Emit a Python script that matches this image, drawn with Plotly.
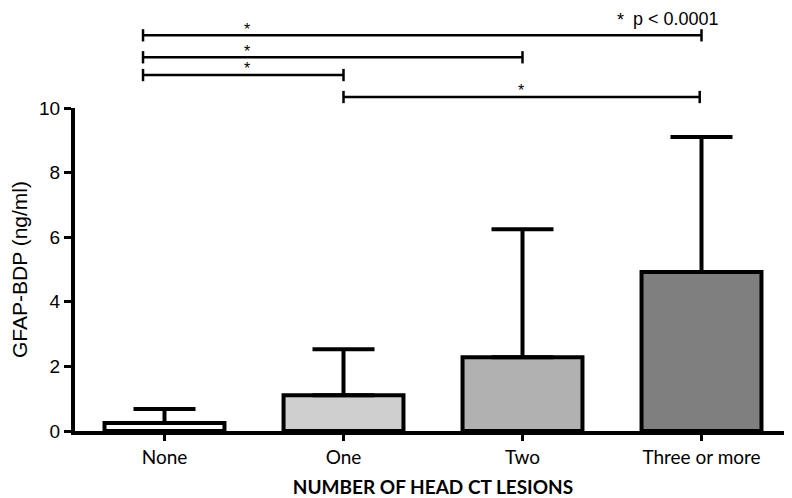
import plotly.graph_objects as go

categories = ["None", "One", "Two", "Three or more"]
means = [0.25, 1.11, 2.28, 4.92]
errors_up = [0.43, 1.42, 3.97, 4.18]
bar_colors = ["#ffffff", "#cfcfcf", "#b1b1b1", "#7f7f7f"]

# significance comparisons: (start position, end position, bracket level, star x)
comparisons = [
    (-0.12, 3.0, 1.225, 0.46),
    (-0.12, 2.0, 1.157, 0.46),
    (-0.12, 1.0, 1.102, 0.46),
    (1.0, 2.99, 1.034, 1.99),
]
sig_note = "p < 0.0001"

fig = go.Figure()
fig.add_trace(go.Bar(
    x=list(range(len(categories))),
    y=means,
    width=0.67,
    marker=dict(color=bar_colors, line=dict(color="black", width=4)),
    error_y=dict(type="data", symmetric=False, array=errors_up, arrayminus=[0]*4,
                 color="black", thickness=4, width=31),
    showlegend=False,
))

shapes = []
annotations = []
for x0, x1, lvl, sx in comparisons:
    shapes.append(dict(type="line", xref="x", yref="paper", x0=x0, x1=x1, y0=lvl, y1=lvl,
                       line=dict(color="black", width=2.5)))
    for xe in (x0, x1):
        shapes.append(dict(type="line", xref="x", yref="paper", x0=xe, x1=xe,
                           y0=lvl - 0.019, y1=lvl + 0.019, line=dict(color="black", width=2.5)))
    annotations.append(dict(x=sx, y=lvl + 0.019, xref="x", yref="paper", text="*",
                            showarrow=False, yanchor="middle",
                            font=dict(family="Liberation Sans", size=16, color="black")))

annotations.append(dict(x=2.546, y=1.273, xref="x", yref="paper", text="*",
                        showarrow=False, yanchor="middle",
                        font=dict(family="Liberation Sans", size=18, color="black")))
annotations.append(dict(x=2.605, y=1.274, xref="x", yref="paper", text=sig_note,
                        showarrow=False, xanchor="left", yanchor="middle",
                        font=dict(family="Liberation Sans", size=18, color="black")))

# the page places the figure 8px in from the top-left corner of the window
fig.update_layout(
    width=784, height=490,
    margin=dict(l=67, r=1, t=100, b=67),
    plot_bgcolor="white", paper_bgcolor="white",
    shapes=shapes, annotations=annotations,
    xaxis=dict(
        range=[-0.5, 3.5], tickvals=list(range(len(categories))), ticktext=categories,
        showline=True, linecolor="black", linewidth=4, ticks="outside", ticklen=6,
        tickwidth=3, tickcolor="black", showgrid=False, zeroline=False, automargin=False,
        tickfont=dict(family="Lato", size=19, color="black"),
        title=dict(text="<b>NUMBER OF HEAD CT LESIONS</b>", standoff=16,
                   font=dict(family="Lato", size=19, color="black")),
    ),
    yaxis=dict(
        range=[0, 10], tickvals=[0, 2, 4, 6, 8, 10],
        showline=True, linecolor="black", linewidth=4, ticks="outside", ticklen=7,
        tickwidth=3, tickcolor="black", showgrid=False, zeroline=False, automargin=False,
        tickfont=dict(family="Liberation Sans", size=19, color="black"),
        title=dict(text="GFAP-BDP (ng/ml)", standoff=14,
                   font=dict(family="Liberation Sans", size=21, color="black")),
    ),
)

fig.write_html("out.html")
